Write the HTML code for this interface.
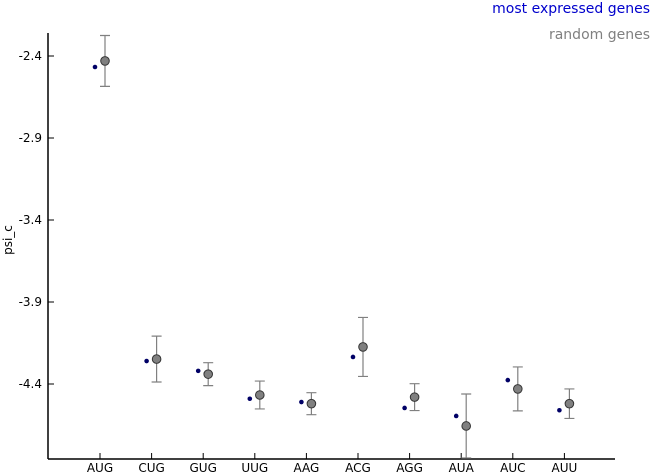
<!DOCTYPE html>
<html><head><meta charset="utf-8"><style>
body{margin:0;background:#fff;}
svg{display:block;font-family:"DejaVu Sans","Liberation Sans",sans-serif;}
</style></head><body>
<svg id="chart" width="652" height="475" xmlns="http://www.w3.org/2000/svg">
<text x="650" y="13" text-anchor="end" font-size="14" fill="#0000cc">most expressed genes</text>
<text x="650" y="39" text-anchor="end" font-size="14" fill="#808080">random genes</text>
<text transform="translate(12,240) rotate(-90)" text-anchor="middle" font-size="12">psi_c</text>
<line x1="48" y1="33" x2="48" y2="459" stroke="#000" stroke-width="1.5"/>
<line x1="48" y1="459" x2="615" y2="459" stroke="#000" stroke-width="1.5"/>
<g id="marks"></g>
</svg>
<script>
const categories=["AUG","CUG","GUG","UUG","AAG","ACG","AGG","AUA","AUC","AUU"];
const expressedValues=[-2.467,-4.26,-4.32,-4.49,-4.51,-4.235,-4.546,-4.595,-4.376,-4.56];
const randomValues=[-2.43,-4.248,-4.34,-4.467,-4.52,-4.174,-4.48,-4.656,-4.43,-4.52];
const randomErrors=[0.155,0.14,0.07,0.085,0.067,0.18,0.082,0.195,0.134,0.09];
const yTicks=[-2.4,-2.9,-3.4,-3.9,-4.4];
const ns="http://www.w3.org/2000/svg";
const svg=document.getElementById("chart");
const yScale=v=>56+(-2.4-v)*164;
const xScale=i=>100+51.6*i;
function mk(t,a){const e=document.createElementNS(ns,t);for(const k in a)e.setAttribute(k,a[k]);svg.appendChild(e);return e;}
yTicks.forEach(v=>{
 const y=yScale(v);
 const l=mk("line",{x1:48,x2:54,y1:y,y2:y,stroke:"#000"});
 
 
 const t=mk("text",{x:42,y:y+4,"text-anchor":"end","font-size":12});
 t.textContent=v.toFixed(1);
 
 
});
categories.forEach((c,i)=>{
 const x=xScale(i);
 const l=mk("line",{x1:x,x2:x,y1:453,y2:459,stroke:"#000"});
 
 
 const t=mk("text",{x:x,y:472,"text-anchor":"middle","font-size":12});
 t.textContent=c;
 
 
 const gx=x+5;
 const top=yScale(randomValues[i]+randomErrors[i]);
 const bot=Math.min(459,yScale(randomValues[i]-randomErrors[i]));
 const eb=mk("path",{d:`M${gx},${top}V${bot}M${gx-5},${top}H${gx+5}M${gx-5},${bot}H${gx+5}`,stroke:"#808080","stroke-width":1.2,fill:"none"});
 
 
 const g=mk("circle",{cx:gx,cy:yScale(randomValues[i]),r:4.3,fill:"#808080",stroke:"#333","stroke-width":1});
 
 
 const b=mk("circle",{cx:x-5,cy:yScale(expressedValues[i]),r:2.3,fill:"#000066"});
 
 
});
</script>
</body></html>
